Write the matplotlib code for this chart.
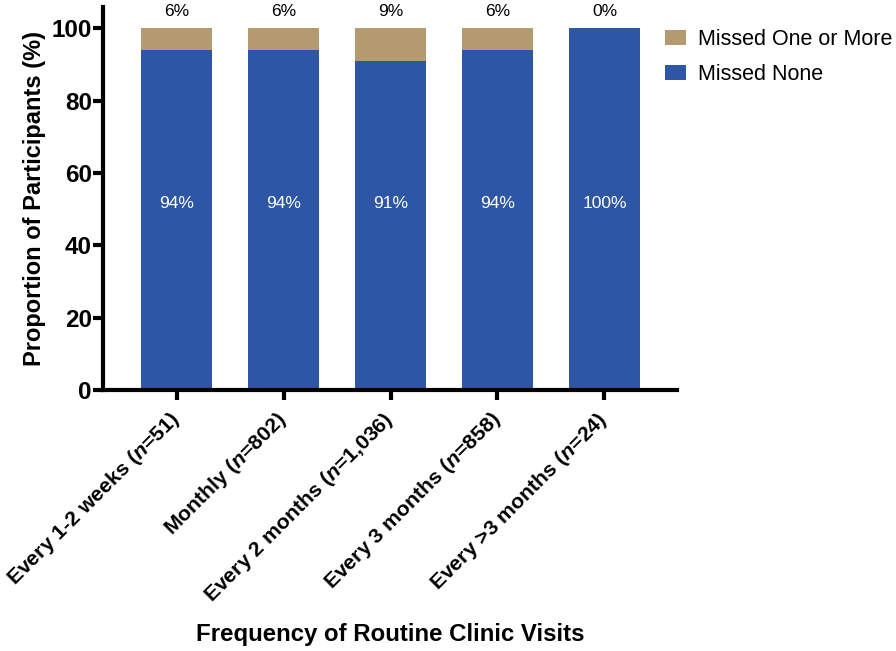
import numpy as np
import matplotlib
matplotlib.use("Agg")
import matplotlib.pyplot as plt
import matplotlib.transforms as mtransforms
from matplotlib.patches import Patch

plt.rcParams['font.family'] = ['Liberation Sans', 'DejaVu Sans']
plt.rcParams['mathtext.fontset'] = 'custom'
plt.rcParams['mathtext.rm'] = 'Liberation Sans:bold'
plt.rcParams['mathtext.it'] = 'Liberation Sans:italic:bold'

# data
categories = ["Every 1-2 weeks", "Monthly", "Every 2 months", "Every 3 months", "Every >3 months"]
n_values = ["51", "802", "1,036", "858", "24"]
missed_none = [94, 94, 91, 94, 100]
missed_one = [6, 6, 9, 6, 0]

blue = '#2D57A4'
tan = '#B39B6F'

fig = plt.figure(figsize=(8.96, 6.51), dpi=100)
ax = fig.add_axes([0.115, 0.401, 0.6406, 0.588])

x = np.arange(len(categories))
ax.bar(x, missed_none, width=0.665, color=blue, zorder=2)
ax.bar(x, missed_one, width=0.665, bottom=missed_none, color=tan, zorder=2)

# labels in and above bars
for i in range(len(x)):
    ax.text(x[i], 51.5, '%d%%' % missed_none[i], color='white', ha='center', va='center', fontsize=12.5)
    ax.text(x[i], 104.7, '%d%%' % missed_one[i], color='black', ha='center', va='center', fontsize=12.5,
            clip_on=False)

ax.set_xlim(-0.687, 4.678)
ax.set_ylim(0, 105.8)
ax.set_yticks([0, 20, 40, 60, 80, 100])

ticklabels = ['%s ($n$=%s)' % (c, n) for c, n in zip(categories, n_values)]
ax.set_xticks(x)
ax.set_xticklabels(ticklabels, rotation=45, ha='right', va='center', rotation_mode='anchor',
                   fontsize=15.3, fontweight='bold')
shift = mtransforms.ScaledTranslation(9/100., 0, fig.dpi_scale_trans)
for lab in ax.get_xticklabels():
    lab.set_transform(lab.get_transform() + shift)
for lab in ax.get_yticklabels():
    lab.set_fontsize(17.5)
    lab.set_fontweight('bold')

ax.spines['top'].set_visible(False)
ax.spines['right'].set_visible(False)
ax.spines['left'].set_linewidth(3)
ax.spines['bottom'].set_linewidth(3)
ax.tick_params(axis='both', width=3, length=7)
ax.tick_params(axis='x', pad=12)
ax.tick_params(axis='y', pad=1)

ax.set_ylabel('Proportion of Participants (%)', fontsize=17, fontweight='bold', labelpad=4)
ax.set_xlabel('Frequency of Routine Clinic Visits', fontsize=17.3, fontweight='bold', va='top')
ax.xaxis.set_label_coords(0.5, -0.608)

handles = [Patch(facecolor=tan, edgecolor='none', label='Missed One or More'),
           Patch(facecolor=blue, edgecolor='none', label='Missed None')]
fig.legend(handles=handles, loc='upper left', bbox_to_anchor=(0.7327, 0.968), frameon=False,
           borderaxespad=0, fontsize=15.5, handlelength=0.95, handleheight=0.7,
           handletextpad=0.6, labelspacing=0.65)

fig.savefig('out.png', dpi=100)
